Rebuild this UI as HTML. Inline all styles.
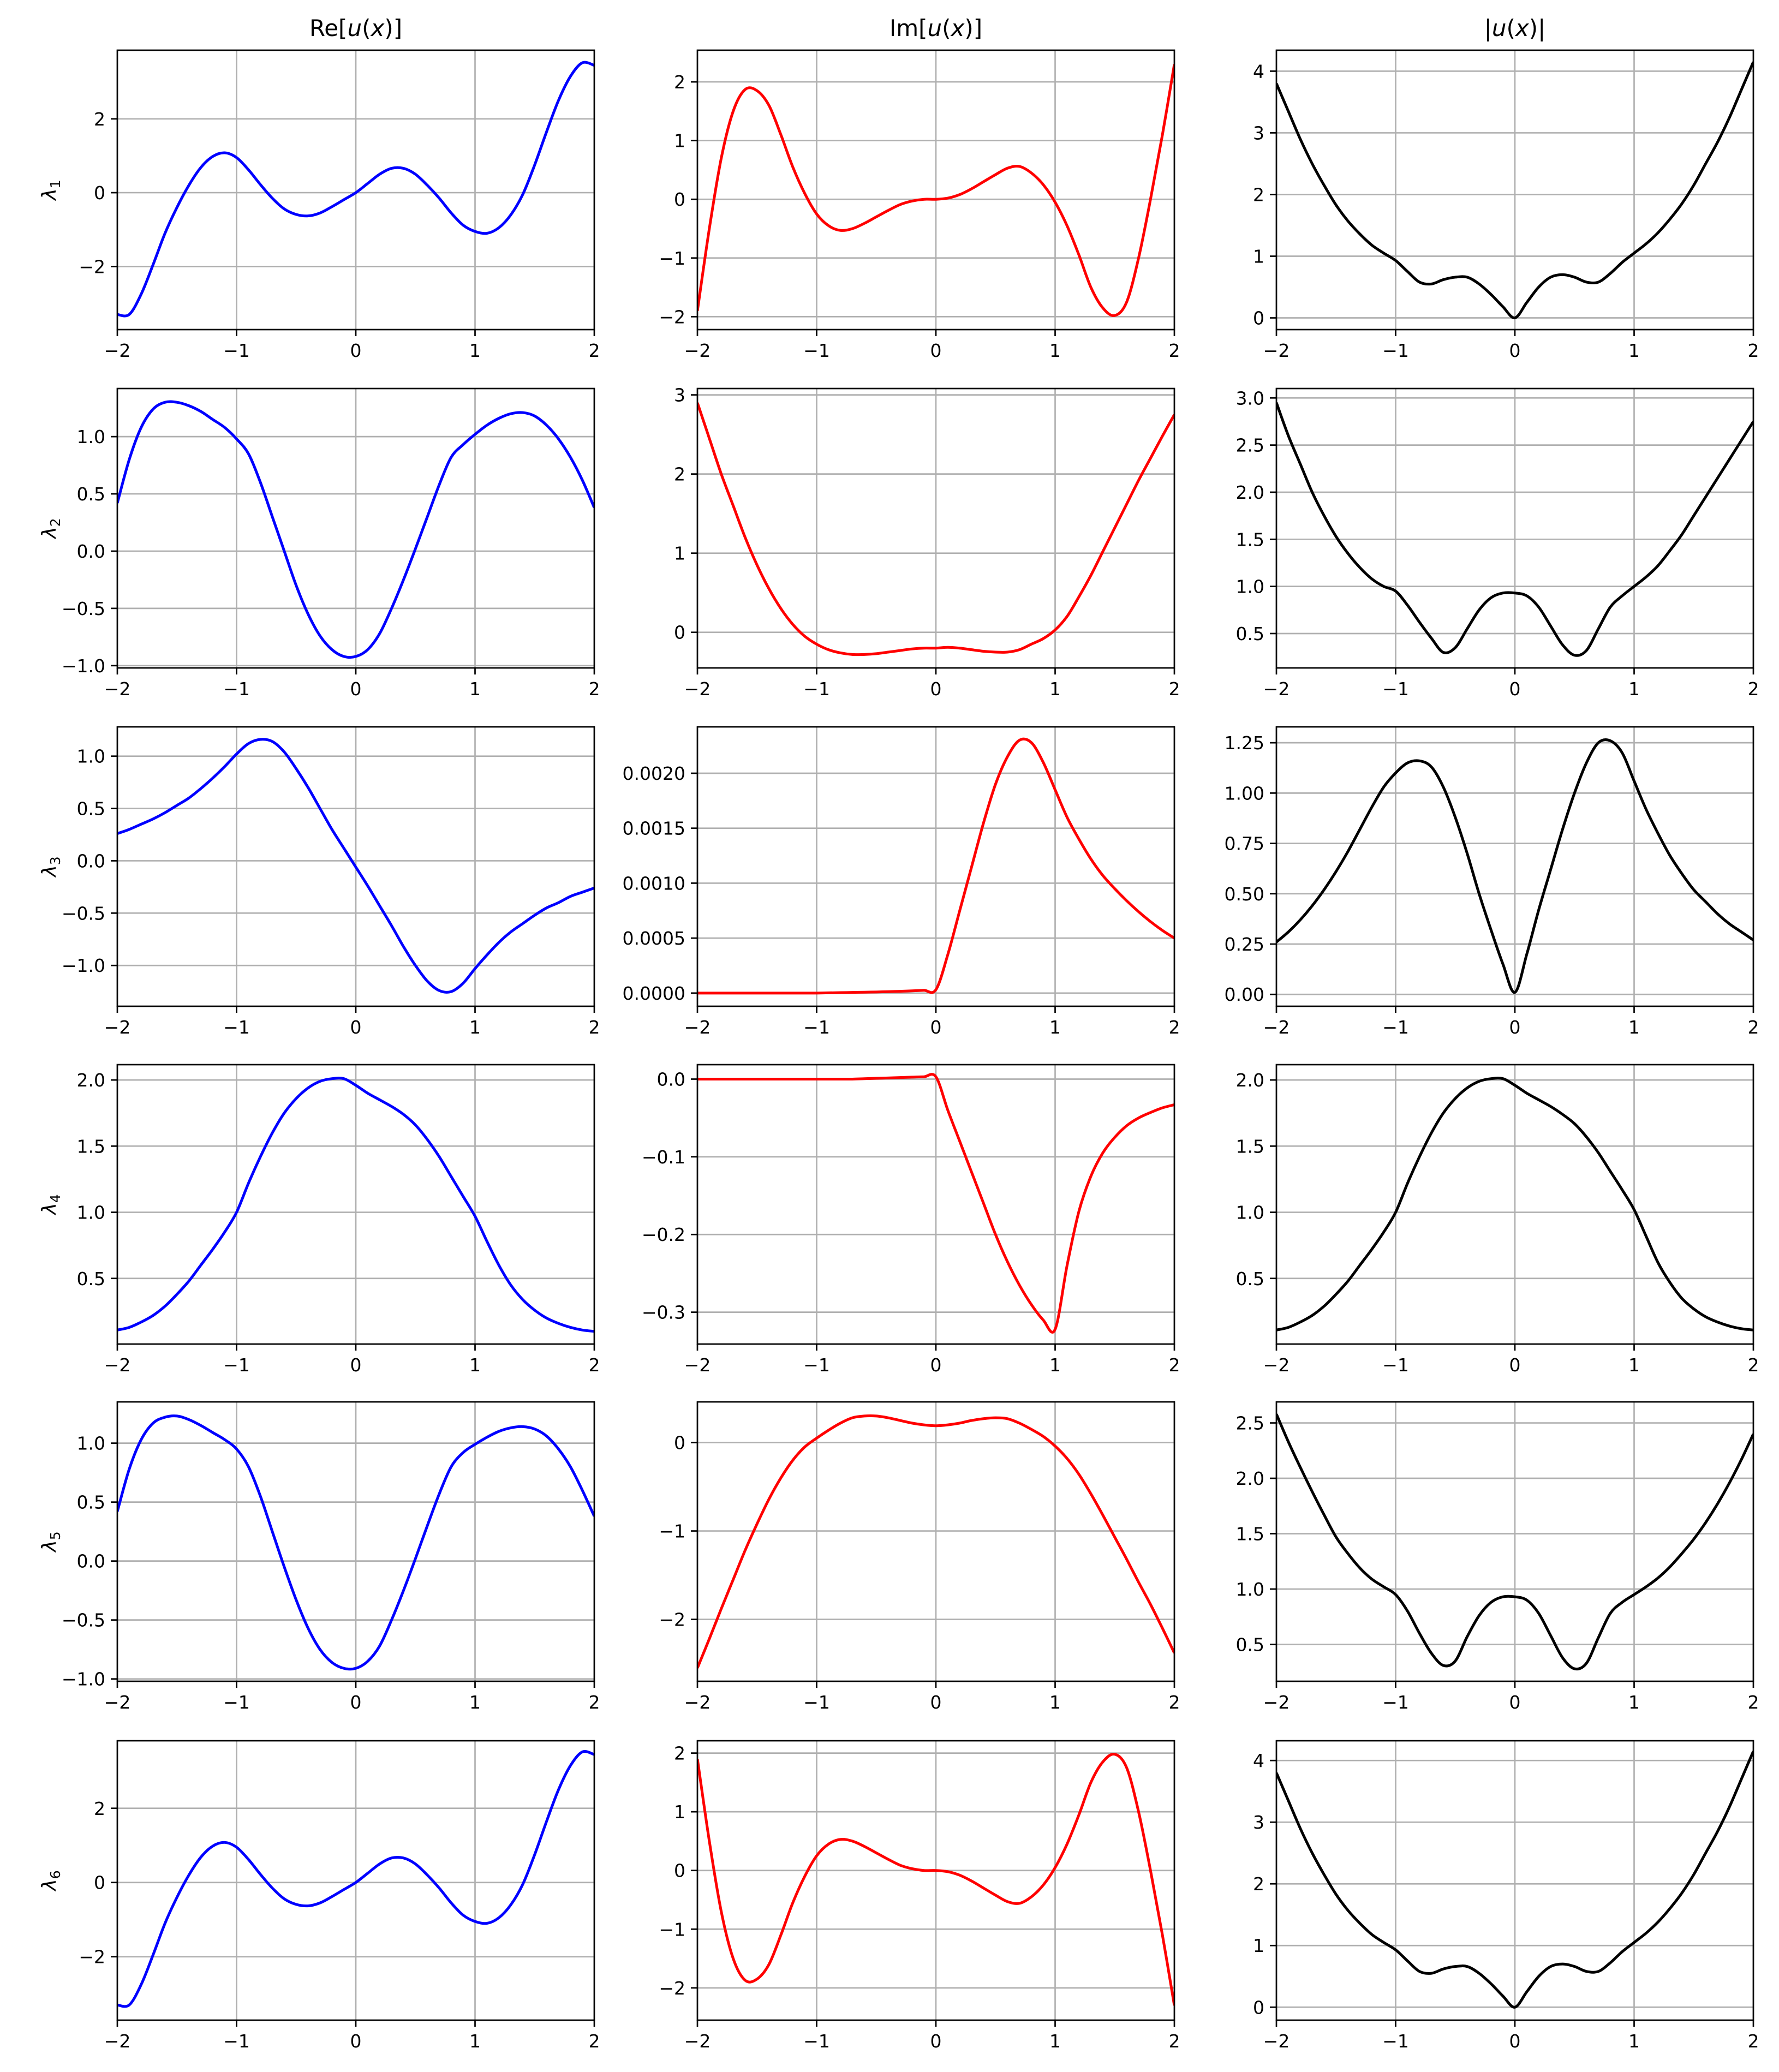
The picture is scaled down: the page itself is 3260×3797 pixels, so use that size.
<!DOCTYPE html>
<html><head><meta charset="utf-8"><style>
html,body{margin:0;padding:0;background:#fff}
svg{display:block}
text{font-family:"DejaVu Sans","Liberation Sans",sans-serif;fill:#000}
</style></head><body>
<svg id="fig" width="3260" height="3797" viewBox="0 0 3260 3797" xmlns="http://www.w3.org/2000/svg"></svg>
<script>
const xs=[-2,-1.9,-1.8,-1.7,-1.6,-1.5,-1.4,-1.3,-1.2,-1.1,-1,-0.9,-0.8,-0.7,-0.6,-0.5,-0.4,-0.3,-0.2,-0.1,0,0.1,0.2,0.3,0.4,0.5,0.6,0.7,0.8,0.9,1,1.1,1.2,1.3,1.4,1.5,1.6,1.7,1.8,1.9,2];
const xTicks=[-2,-1,0,1,2];
const xTickLabels=["−2","−1","0","1","2"];
const colTitles=["Re","Im","abs"];
const rowLabels=["1","2","3","4","5","6"];

const re1=[-3.3,-3.3,-2.75,-1.95,-1.1,-0.4,0.2,0.68,0.98,1.08,0.95,0.62,0.22,-0.15,-0.44,-0.59,-0.63,-0.55,-0.38,-0.19,0,0.25,0.5,0.66,0.66,0.5,0.2,-0.15,-0.55,-0.88,-1.05,-1.1,-0.95,-0.6,-0.05,0.75,1.65,2.5,3.15,3.52,3.45];
const im1=[-1.9,-0.5,0.7,1.5,1.87,1.85,1.6,1.1,0.55,0.1,-0.25,-0.45,-0.53,-0.5,-0.41,-0.3,-0.19,-0.09,-0.03,0,0,0.02,0.08,0.18,0.3,0.42,0.53,0.56,0.45,0.25,-0.05,-0.45,-0.95,-1.5,-1.85,-1.98,-1.75,-1.0,0.0,1.1,2.3];
const ab1=[3.8,3.35,2.9,2.5,2.15,1.83,1.57,1.36,1.18,1.05,0.93,0.75,0.58,0.55,0.62,0.66,0.66,0.55,0.38,0.18,0,0.25,0.5,0.66,0.7,0.66,0.58,0.58,0.72,0.9,1.05,1.2,1.38,1.6,1.85,2.15,2.5,2.85,3.25,3.7,4.15];

const re2=[0.42,0.8,1.08,1.24,1.3,1.3,1.27,1.22,1.15,1.08,0.98,0.85,0.6,0.3,0.0,-0.3,-0.55,-0.74,-0.86,-0.92,-0.92,-0.86,-0.72,-0.5,-0.25,0.02,0.3,0.58,0.82,0.93,1.02,1.1,1.16,1.2,1.21,1.18,1.1,0.98,0.82,0.62,0.38];
const im2=[2.9,2.45,2.0,1.6,1.2,0.85,0.55,0.3,0.1,-0.05,-0.15,-0.22,-0.26,-0.28,-0.28,-0.27,-0.25,-0.23,-0.21,-0.2,-0.2,-0.19,-0.2,-0.22,-0.24,-0.25,-0.25,-0.22,-0.15,-0.08,0.03,0.2,0.45,0.72,1.02,1.32,1.62,1.92,2.2,2.48,2.75];
const ab2=[2.95,2.6,2.3,2.0,1.75,1.53,1.35,1.2,1.08,1.0,0.95,0.8,0.62,0.45,0.3,0.35,0.55,0.75,0.88,0.93,0.93,0.9,0.78,0.58,0.38,0.27,0.32,0.55,0.78,0.9,1.0,1.1,1.22,1.38,1.55,1.75,1.95,2.15,2.35,2.55,2.75];

const re3=[0.26,0.3,0.35,0.4,0.46,0.53,0.6,0.69,0.79,0.9,1.02,1.12,1.16,1.14,1.04,0.88,0.7,0.5,0.3,0.12,-0.06,-0.24,-0.43,-0.62,-0.82,-1.0,-1.15,-1.24,-1.25,-1.17,-1.03,-0.9,-0.78,-0.68,-0.6,-0.52,-0.45,-0.4,-0.34,-0.3,-0.26];
const im3=[0,0,0,0,0,0,0,0,0,0,0,0.000002,0.000004,0.000006,0.000008,0.00001,0.000013,0.000016,0.00002,0.000025,0.00003,0.00035,0.00075,0.00115,0.00155,0.0019,0.00215,0.0023,0.00228,0.0021,0.00185,0.0016,0.0014,0.00122,0.00107,0.00095,0.00084,0.00074,0.00065,0.00057,0.0005];
const ab3=[0.26,0.31,0.37,0.44,0.52,0.61,0.71,0.82,0.93,1.03,1.1,1.15,1.16,1.13,1.03,0.88,0.7,0.5,0.32,0.15,0.01,0.2,0.42,0.62,0.82,1.0,1.15,1.25,1.26,1.2,1.06,0.92,0.8,0.69,0.6,0.52,0.46,0.4,0.35,0.31,0.27];

const re4=[0.11,0.13,0.17,0.22,0.29,0.38,0.48,0.6,0.72,0.85,1.0,1.22,1.42,1.6,1.75,1.86,1.94,1.99,2.01,2.01,1.96,1.9,1.85,1.8,1.74,1.66,1.55,1.42,1.27,1.12,0.97,0.78,0.6,0.45,0.34,0.26,0.2,0.16,0.13,0.11,0.1];
const im4=[0,0,0,0,0,0,0,0,0,0,0,0,0,0,0.0005,0.001,0.0015,0.002,0.0025,0.003,0.003,-0.04,-0.08,-0.12,-0.16,-0.2,-0.235,-0.265,-0.29,-0.31,-0.322,-0.24,-0.17,-0.125,-0.095,-0.075,-0.06,-0.05,-0.043,-0.037,-0.033];
const ab4=[0.11,0.13,0.17,0.22,0.29,0.38,0.48,0.6,0.72,0.85,1.0,1.22,1.42,1.6,1.75,1.86,1.94,1.99,2.01,2.01,1.96,1.9,1.85,1.8,1.74,1.67,1.57,1.45,1.31,1.17,1.02,0.82,0.62,0.47,0.35,0.27,0.21,0.17,0.14,0.12,0.11];

const re5=[0.42,0.78,1.03,1.17,1.22,1.23,1.2,1.15,1.09,1.03,0.95,0.8,0.55,0.25,-0.05,-0.33,-0.57,-0.75,-0.86,-0.91,-0.91,-0.85,-0.72,-0.5,-0.25,0.02,0.3,0.57,0.8,0.92,0.99,1.05,1.1,1.13,1.14,1.12,1.06,0.95,0.8,0.6,0.38];
const im5=[-2.55,-2.22,-1.88,-1.55,-1.22,-0.92,-0.64,-0.4,-0.2,-0.05,0.05,0.14,0.22,0.28,0.3,0.3,0.28,0.25,0.22,0.2,0.19,0.2,0.22,0.25,0.27,0.28,0.27,0.22,0.15,0.07,-0.04,-0.18,-0.36,-0.58,-0.82,-1.07,-1.32,-1.58,-1.83,-2.1,-2.38];
const ab5=[2.58,2.33,2.1,1.88,1.67,1.47,1.32,1.19,1.09,1.02,0.95,0.8,0.6,0.42,0.31,0.35,0.57,0.76,0.88,0.93,0.93,0.9,0.78,0.58,0.38,0.28,0.33,0.56,0.78,0.88,0.95,1.02,1.1,1.2,1.32,1.45,1.6,1.77,1.96,2.17,2.4];

const re6=[-3.3,-3.3,-2.75,-1.95,-1.1,-0.4,0.2,0.68,0.98,1.08,0.95,0.62,0.22,-0.15,-0.44,-0.59,-0.63,-0.55,-0.38,-0.19,0,0.25,0.5,0.66,0.66,0.5,0.2,-0.15,-0.55,-0.88,-1.05,-1.1,-0.95,-0.6,-0.05,0.75,1.65,2.5,3.15,3.52,3.45];
const im6=[1.9,0.5,-0.7,-1.5,-1.87,-1.85,-1.6,-1.1,-0.55,-0.1,0.25,0.45,0.53,0.5,0.41,0.3,0.19,0.09,0.03,0,0,-0.02,-0.08,-0.18,-0.3,-0.42,-0.53,-0.56,-0.45,-0.25,0.05,0.45,0.95,1.5,1.85,1.98,1.75,1.0,0.0,-1.1,-2.3];
const ab6=[3.8,3.35,2.9,2.5,2.15,1.83,1.57,1.36,1.18,1.05,0.93,0.75,0.58,0.55,0.62,0.66,0.66,0.55,0.38,0.18,0,0.25,0.5,0.66,0.7,0.66,0.58,0.58,0.72,0.9,1.05,1.2,1.38,1.6,1.85,2.15,2.5,2.85,3.25,3.7,4.15];

const yTicks=[
 [[-2,0,2],[-2,-1,0,1,2],[0,1,2,3,4]],
 [[-1,-0.5,0,0.5,1],[0,1,2,3],[0.5,1,1.5,2,2.5,3]],
 [[-1,-0.5,0,0.5,1],[0,0.0005,0.001,0.0015,0.002],[0,0.25,0.5,0.75,1,1.25]],
 [[0.5,1,1.5,2],[-0.3,-0.2,-0.1,0],[0.5,1,1.5,2]],
 [[-1,-0.5,0,0.5,1],[-2,-1,0],[0.5,1,1.5,2,2.5]],
 [[-2,0,2],[-2,-1,0,1,2],[0,1,2,3,4]]
];
const yTickDigits=[[0,0,0],[1,0,1],[1,4,2],[1,1,1],[1,0,1],[0,0,0]];
const yLims=[
 [[-3.71,3.86],[-2.22,2.54],[-0.19,4.34]],
 [[-1.02,1.42],[-0.45,3.08],[0.135,3.10]],
 [[-1.39,1.28],[-0.00012,0.002422],[-0.059,1.329]],
 [[0.004,2.116],[-0.341,0.0186],[0.004,2.116]],
 [[-1.02,1.35],[-2.70,0.46],[0.167,2.69]],
 [[-3.71,3.82],[-2.55,2.21],[-0.21,4.32]]
];
const series=[[re1,im1,ab1],[re2,im2,ab2],[re3,im3,ab3],[re4,im4,ab4],[re5,im5,ab5],[re6,im6,ab6]];
const colors=["#0000ff","#ff0000","#000000"];

const NS="http://www.w3.org/2000/svg";
const svg=document.getElementById('fig');
const colL=[215,1278,2339], colW=874;
const rowT=[92,712,1332,1951,2569,3190], rowH=512;

function mk(tag,attrs,parent){const e=document.createElementNS(NS,tag);for(const k in attrs)e.setAttribute(k,attrs[k]);(parent||svg).appendChild(e);return e;}
function fmt(v,d){let s=Math.abs(v).toFixed(d);return (v<0?"−":"")+s;}
function spline(pts){
 let d="M"+pts[0][0].toFixed(2)+","+pts[0][1].toFixed(2);
 for(let i=0;i<pts.length-1;i++){
  const p0=pts[Math.max(i-1,0)],p1=pts[i],p2=pts[i+1],p3=pts[Math.min(i+2,pts.length-1)];
  const t=1/6;
  const c1=[p1[0]+(p2[0]-p0[0])*t,p1[1]+(p2[1]-p0[1])*t];
  const c2=[p2[0]-(p3[0]-p1[0])*t,p2[1]-(p3[1]-p1[1])*t];
  d+="C"+c1[0].toFixed(2)+","+c1[1].toFixed(2)+" "+c2[0].toFixed(2)+","+c2[1].toFixed(2)+" "+p2[0].toFixed(2)+","+p2[1].toFixed(2);
 }
 return d;
}

const titles=['Re[<tspan font-style="italic">u</tspan>(<tspan font-style="italic">x</tspan>)]','Im[<tspan font-style="italic">u</tspan>(<tspan font-style="italic">x</tspan>)]','|<tspan font-style="italic">u</tspan>(<tspan font-style="italic">x</tspan>)|'];

for(let c=0;c<3;c++){
 const t=mk('text',{x:colL[c]+colW/2,y:66,'text-anchor':'middle','font-size':42});
 
 
 t.innerHTML=titles[c];
}

for(let r=0;r<6;r++){
 for(let c=0;c<3;c++){
  const L=colL[c],T=rowT[r],W=colW,H=rowH;
  const [y0,y1]=yLims[r][c];
  const X=v=>L+(v+2)/4*W;
  const Y=v=>T+H-(v-y0)/(y1-y0)*H;
  const g=mk('g',{});
  
  
  xTicks.forEach((v,i)=>{
   const ln=mk('line',{x1:X(v),x2:X(v),y1:T,y2:T+H,stroke:'#b0b0b0','stroke-width':2.7},g);
   
   
   const tk=mk('line',{x1:X(v),x2:X(v),y1:T+H,y2:T+H+12,stroke:'#000','stroke-width':2.7},g);
   
   
   const tl=mk('text',{x:X(v),y:T+H+50,'text-anchor':'middle','font-size':33},g);
   
   
   tl.textContent=xTickLabels[i];
  });
  yTicks[r][c].forEach(v=>{
   const yy=Y(v);
   const ln=mk('line',{x1:L,x2:L+W,y1:yy,y2:yy,stroke:'#b0b0b0','stroke-width':2.7},g);
   
   
   const tk=mk('line',{x1:L-12,x2:L,y1:yy,y2:yy,stroke:'#000','stroke-width':2.7},g);
   
   
   const tl=mk('text',{x:L-22,y:yy+12,'text-anchor':'end','font-size':33},g);
   
   
   tl.textContent=fmt(v,yTickDigits[r][c]);
  });
  const cp=mk('clipPath',{id:'cp'+r+c},g);
  mk('rect',{x:L,y:T,width:W,height:H},cp);
  const pts=xs.map((x,i)=>[X(x),Y(series[r][c][i])]);
  const p=mk('path',{d:spline(pts),fill:'none',stroke:colors[c],'stroke-width':5,'stroke-linejoin':'round','clip-path':'url(#cp'+r+c+')'},g);
  
  
  const fr=mk('rect',{x:L,y:T,width:W,height:H,fill:'none',stroke:'#000','stroke-width':2.7},g);
  
  
  if(c===0){
   const yl=mk('text',{x:0,y:0,'text-anchor':'middle','font-size':36,transform:'translate(102,'+(T+H/2)+') rotate(-90)'},g);
   
   
   yl.innerHTML='<tspan font-style="italic">λ</tspan><tspan font-size="25" dy="8">'+rowLabels[r]+'</tspan>';
  }
 }
}
</script>
</body></html>
